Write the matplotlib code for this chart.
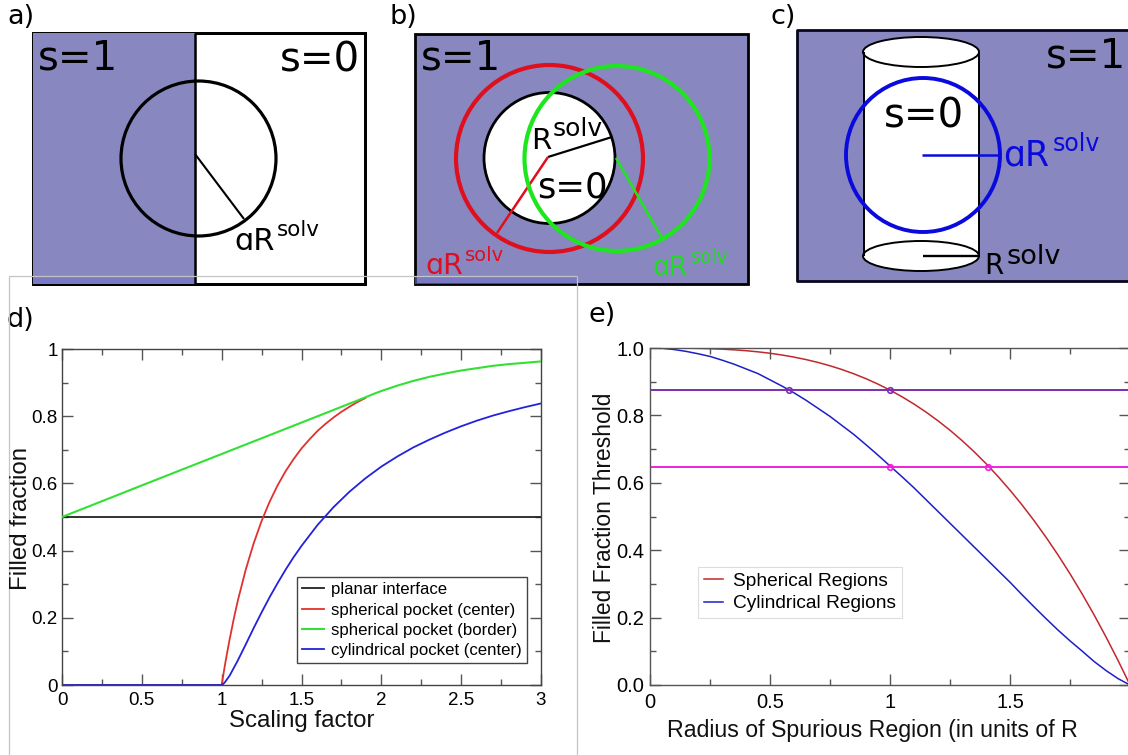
import matplotlib
matplotlib.use("Agg")
import matplotlib.pyplot as plt
from matplotlib.patches import Rectangle, Circle, Ellipse
from matplotlib.ticker import MultipleLocator

W, H = 1128, 755
PURPLE = "#8887bf"
SANS = ["Liberation Sans", "DejaVu Sans"]

# ---- panel d data ----
d_planar_x = [0, 3]
d_planar_y = [0.5, 0.5]
d_red_x = [0, 1, 1.01, 1.02, 1.03, 1.05, 1.075, 1.1, 1.15, 1.2, 1.25, 1.3, 1.35, 1.4, 1.45, 1.5, 1.55, 1.6, 1.65, 1.7, 1.75, 1.8, 1.85, 1.9]
d_red_y = [0, 0, 0.029, 0.058, 0.085, 0.136, 0.195, 0.249, 0.342, 0.421, 0.488, 0.545, 0.594, 0.636, 0.672, 0.704, 0.731, 0.756, 0.777, 0.796, 0.813, 0.828, 0.842, 0.854]
d_green_x = [0, 0.5, 1, 1.5, 1.9, 1.95, 2, 2.05, 2.1, 2.2, 2.3, 2.4, 2.5, 2.6, 2.7, 2.8, 2.9, 3]
d_green_y = [0.5, 0.594, 0.6875, 0.781, 0.856, 0.866, 0.875, 0.883, 0.891, 0.905, 0.917, 0.927, 0.936, 0.943, 0.950, 0.955, 0.959, 0.963]
d_blue_x = [0, 1, 1.01, 1.02, 1.05, 1.1, 1.15, 1.2, 1.25, 1.3, 1.35, 1.4, 1.45, 1.5, 1.6, 1.7, 1.8, 1.9, 2, 2.1, 2.2, 2.3, 2.4, 2.5, 2.6, 2.7, 2.8, 2.9, 3]
d_blue_y = [0, 0, 0.003, 0.008, 0.028, 0.072, 0.12, 0.169, 0.216, 0.261, 0.303, 0.343, 0.38, 0.414, 0.476, 0.529, 0.575, 0.615, 0.65, 0.68, 0.707, 0.73, 0.751, 0.77, 0.787, 0.802, 0.815, 0.827, 0.838]
d_labels = ["planar interface", "spherical pocket (center)", "spherical pocket (border)", "cylindrical pocket (center)"]
d_xticks = [0, 0.5, 1, 1.5, 2, 2.5, 3]
d_xticklabels = ["0", "0.5", "1", "1.5", "2", "2.5", "3"]
d_yticks = [0, 0.2, 0.4, 0.6, 0.8, 1]
d_yticklabels = ["0", "0.2", "0.4", "0.6", "0.8", "1"]

# ---- panel e data ----
e_x = [0, 0.05, 0.1, 0.15, 0.2, 0.25, 0.3, 0.35, 0.4, 0.45, 0.5, 0.55, 0.6, 0.65, 0.7, 0.75, 0.8, 0.85, 0.9, 0.95, 1,
       1.05, 1.1, 1.15, 1.2, 1.25, 1.3, 1.35, 1.4, 1.45, 1.5, 1.55, 1.6, 1.65, 1.7, 1.75, 1.8, 1.85, 1.9, 1.95, 2]
e_sph = [1, 1, 0.9999, 0.9996, 0.999, 0.998, 0.9966, 0.9946, 0.992, 0.9886, 0.9844, 0.9792, 0.973, 0.9657, 0.9571, 0.9473, 0.936, 0.9232, 0.9089, 0.8928, 0.875,
         0.8553, 0.8336, 0.8099, 0.784, 0.7559, 0.7254, 0.6925, 0.657, 0.6189, 0.5781, 0.5345, 0.488, 0.4385, 0.3859, 0.3301, 0.271, 0.2086, 0.1426, 0.0731, 0]
e_cyl = [1, 0.999, 0.9955, 0.990, 0.983, 0.975, 0.964, 0.952, 0.938, 0.924, 0.9055, 0.887, 0.867, 0.845, 0.821, 0.797, 0.77, 0.743, 0.713, 0.682, 0.65,
         0.618, 0.585, 0.55, 0.515, 0.48, 0.445, 0.41, 0.375, 0.34, 0.305, 0.268, 0.232, 0.197, 0.163, 0.131, 0.101, 0.070, 0.043, 0.019, 0]
e_levels = [0.875, 0.648]
e_mark_x = [[0.58, 1.0], [1.0, 1.41]]
e_labels = ["Spherical Regions", "Cylindrical Regions"]
e_xticks = [0, 0.5, 1, 1.5]
e_xticklabels = ["0", "0.5", "1", "1.5"]
e_yticks = [0, 0.2, 0.4, 0.6, 0.8, 1.0]
e_yticklabels = ["0.0", "0.2", "0.4", "0.6", "0.8", "1.0"]


def px_axes(fig, l, t, r, b, **kw):
    return fig.add_axes([l / W, 1 - b / H, (r - l) / W, (b - t) / H], **kw)


fig = plt.figure(figsize=(W / 100, H / 100), dpi=100, facecolor="white")

# ---------- schematic layer in pixel coordinates ----------
s = px_axes(fig, 0, 0, W, H)
s.set_xlim(0, W)
s.set_ylim(H, 0)
s.axis("off")
s.set_zorder(1)


def box(x0, y0, x1, y1, fc="none", lw=2, z=1, ec="black"):
    s.add_patch(Rectangle((x0, y0), x1 - x0, y1 - y0, fc=fc, ec=ec, lw=lw, zorder=z))


def ring(cx, cy, r, color, lw, fc="none", z=3):
    s.add_patch(Circle((cx, cy), r, fc=fc, ec=color, lw=lw, zorder=z))


def seg(x0, y0, x1, y1, color="black", lw=1.6, z=3):
    s.plot([x0, x1], [y0, y1], color=color, lw=lw, zorder=z, solid_capstyle="butt")


def big(x, y, t, color="black", size=29, ha="left", z=6):
    s.text(x, y, t, color=color, fontsize=size, ha=ha, va="baseline", family="DejaVu Sans", zorder=z)


# panel letters
for x, y, t in [(7, 24, "a)"), (389, 24, "b)"), (771, 24, "c)"), (7, 327, "d)"), (588, 322, "e)")]:
    big(x, y, t, size=19.5)

# a)
box(33, 33, 365, 284, fc="white")
s.add_patch(Rectangle((33, 33), 162, 251, fc=PURPLE, ec="none", zorder=1.5))
box(33, 33, 365, 284)
seg(195, 33, 195, 284, lw=1.8)
ring(198.5, 158.5, 77.5, "black", 2.3)
seg(195, 154, 244, 219, lw=1.5)
big(38, 69, "s=1")
big(280, 71, "s=0")
big(234, 250, "ɑR", size=22)
big(277, 236, "solv", size=15.5)

# b)
box(415, 34, 748, 284, fc=PURPLE)
ring(549.5, 158, 65.5, "black", 2, fc="white", z=2)
ring(549.5, 158.5, 93.5, "#e00f1e", 3)
ring(617, 158.5, 92.5, "#1ee61e", 3, z=4)
seg(548, 157, 612, 137, lw=1.6)
seg(548, 157, 497, 233, color="#e00f1e", lw=1.8)
seg(616, 158, 662, 238, color="#1ee61e", lw=1.8)
big(421, 69, "s=1")
big(537, 197, "s=0", size=25.5)
big(531, 149, "R", size=21)
big(553, 136, "solv", size=18)
big(425, 274, "ɑR", color="#dc0f23", size=20.5)
big(465, 261, "solv", color="#dc0f23", size=14)
big(652, 275, "ɑR", color="#20dc20", size=19)
big(691, 263, "solv", color="#20dc20", size=13.5)

# c)
s.plot([1130, 797, 797, 1130], [30, 30, 281, 281], color="#05051e", lw=2, zorder=2)
s.add_patch(Rectangle((797, 30), 335, 251, fc=PURPLE, ec="none", zorder=1))
s.add_patch(Rectangle((863.5, 52), 115.5, 204, fc="white", ec="none", zorder=2))
seg(863.5, 52, 863.5, 256, lw=1.4)
seg(979, 52, 979, 256, lw=1.4)
s.add_patch(Ellipse((921, 52), 116, 30, fc="white", ec="black", lw=1.4, zorder=2.5))
s.add_patch(Ellipse((921, 256), 116, 30, fc="white", ec="black", lw=1.4, zorder=2.5))
ring(923, 155, 77, "#0a0ade", 2.8)
seg(922, 155, 1000, 155, color="#0a0ade", lw=1.8)
seg(923, 256, 979, 256, lw=1.7)
big(1046, 68, "s=1")
big(884, 127, "s=0")
big(1003, 165, "ɑR", color="#0a0ade", size=25)
big(1053, 151, "solv", color="#0a0ade", size=17)
big(984, 274, "R", size=20)
big(1006, 264, "solv", size=19.5)

# faint screenshot frame around panels d-e
frame_c = "#c4c4c4"
seg(9, 275.5, 577, 275.5, color=frame_c, lw=0.9, z=7)
seg(9, 275.5, 9, 755, color=frame_c, lw=0.9, z=7)
seg(577, 275.5, 577, 755, color=frame_c, lw=0.9, z=7)
s.add_patch(Rectangle((33, 276), 162, 8, fc="#6f70c8", ec="none", alpha=0.6, zorder=2))
s.add_patch(Rectangle((415, 276), 162, 8, fc="#6f70c8", ec="none", alpha=0.6, zorder=2))

# ---------- panel d ----------
ad = px_axes(fig, 62, 349, 541, 685)
ad.set_zorder(2)
ad.patch.set_alpha(0)
ad.plot(d_planar_x, d_planar_y, color="#222222", lw=1.3, label=d_labels[0])
ad.plot(d_red_x, d_red_y, color="#e0312f", lw=1.3, label=d_labels[1])
ad.plot(d_green_x, d_green_y, color="#33e033", lw=1.5, label=d_labels[2], zorder=3)
ad.plot(d_blue_x, d_blue_y, color="#2222dd", lw=1.3, label=d_labels[3])
ad.set_xlim(0, 3)
ad.set_ylim(0, 1)
ad.set_xticks(d_xticks, d_xticklabels, family=SANS, fontsize=13.5)
ad.set_yticks(d_yticks, d_yticklabels, family=SANS, fontsize=13.5)
ad.xaxis.set_minor_locator(MultipleLocator(0.25))
ad.yaxis.set_minor_locator(MultipleLocator(0.1))
ad.tick_params(which="major", direction="in", top=True, right=True, length=8, width=1, color="#555555")
ad.tick_params(axis="x", which="major", pad=5)
ad.tick_params(axis="y", which="major", pad=3)
ad.tick_params(which="minor", direction="in", top=True, right=True, length=4, width=1, color="#555555")
for sp in ad.spines.values():
    sp.set_color("#444444")
    sp.set_linewidth(1)
ad.set_xlabel("Scaling factor", family=SANS, fontsize=17.3, color="#111111")
ad.xaxis.set_label_coords(0.5, -0.073)
ad.set_ylabel("Filled fraction", family=SANS, fontsize=17.3, color="#111111")
ad.yaxis.set_label_coords((32 - 62) / 479, 0.5 + (516 - 517) / 336)
ld = ad.legend(loc="lower left", bbox_to_anchor=((297 - 62) / 479, (685 - 663) / 336), prop={"family": SANS, "size": 12.1},
               fancybox=False, framealpha=1, edgecolor="#444444", borderpad=0.3, labelspacing=0.31,
               handlelength=1.3, handletextpad=0.42, borderaxespad=0)
ld.get_frame().set_linewidth(1)

# ---------- panel e ----------
ae = px_axes(fig, 650, 348, 1130, 685)
ae.set_zorder(2)
ae.patch.set_alpha(0)
ae.plot(e_x, e_sph, color="#c0282d", lw=1.1, label=e_labels[0])
ae.plot(e_x, e_cyl, color="#1e1ec8", lw=1.1, label=e_labels[1])
for lv, mx, col in zip(e_levels, e_mark_x, ["#7b2fb0", "#ee22dd"]):
    ae.axhline(lv, color=col, lw=1.4)
    ae.plot(mx, [lv] * len(mx), ls="none", marker="o", ms=4, mfc="none", mec=col, mew=1.2)
ae.set_xlim(0, 2)
ae.set_ylim(0, 1)
ae.set_xticks(e_xticks, e_xticklabels, family=SANS, fontsize=14.5)
ae.set_yticks(e_yticks, e_yticklabels, family=SANS, fontsize=14.5)
ae.xaxis.set_minor_locator(MultipleLocator(0.25))
ae.yaxis.set_minor_locator(MultipleLocator(0.1))
ae.tick_params(which="major", direction="in", top=True, right=True, length=8, width=1, color="#555555")
ae.tick_params(axis="x", which="major", pad=6)
ae.tick_params(axis="y", which="major", pad=4)
ae.tick_params(which="minor", direction="in", top=True, right=True, length=4, width=1, color="#555555")
for sp in ae.spines.values():
    sp.set_color("#555555")
    sp.set_linewidth(1)
ae.set_xlabel("Radius of Spurious Region (in units of R", family=SANS, fontsize=16.7, color="#111111")
ae.xaxis.set_label_coords((872 - 650) / 480, -0.102)
ae.set_ylabel("Filled Fraction Threshold", family=SANS, fontsize=16.4, color="#111111")
ae.yaxis.set_label_coords((616 - 650) / 480, 0.5 + (516.5 - 518) / 337)
le = ae.legend(loc="lower left", bbox_to_anchor=((698 - 650) / 480, (685 - 618) / 337), prop={"family": SANS, "size": 13.8},
               fancybox=False, framealpha=1, edgecolor="#dddddd", borderpad=0.3, labelspacing=0.25,
               handlelength=1.0, handletextpad=0.55, borderaxespad=0)
le.get_frame().set_linewidth(0.8)

fig.savefig("out.png", dpi=100)
